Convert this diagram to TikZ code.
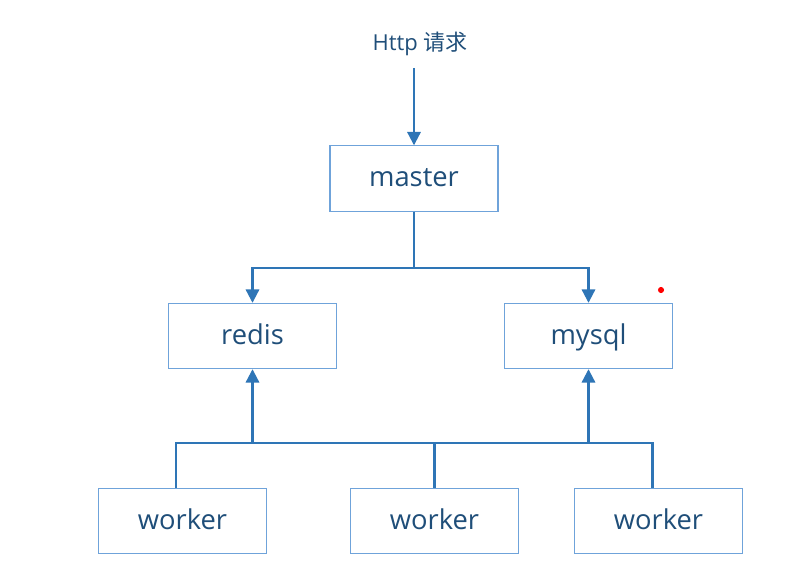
\documentclass[tikz,border=0pt]{standalone}
\usepackage{fontspec}
\setmainfont{Open Sans}
\newfontfamily\cjk{Noto Sans CJK SC}
\usetikzlibrary{arrows.meta, positioning}

\definecolor{boxline}{HTML}{6FA3DA}
\definecolor{boxtext}{HTML}{1F4E79}
\definecolor{linkblue}{HTML}{2E75B6}

\begin{document}
\begin{tikzpicture}[x=0.75pt, y=-0.75pt,
    box/.style={draw=boxline, line width=0.8pt, minimum width=126pt, minimum height=49pt,
      inner sep=0pt, text=boxtext, font=\fontsize{20.5}{24}\selectfont,
      text height=16pt, text depth=3.3pt},
    link/.style={draw=linkblue, line width=1.6pt, -{Triangle[length=10pt, width=10pt]}},
    bus/.style={draw=linkblue, line width=1.6pt}]
  \useasboundingbox (0,0) rectangle (799,577);

  % Request
  \node[text=boxtext, font=\fontsize{16.5}{19}\selectfont] (http) at (420,43.5) {Http {\cjk 请求}};
  \coordinate (in) at (414,68);

  % Nodes
  \node[box] (master) at (414,178.5) {master};
  \node[box] (redis) at (252.5,336) {redis};
  \node[box] (mysql) at (588.5,336) {mysql};
  \node[box] (w1) at (182.5,521) {worker};
  \node[box] (w2) at (434.5,521) {worker};
  \node[box] (w3) at (658.5,521) {worker};

  % master to stores
  \draw[link] (in) -- (master.north);
  \draw[link] (master.south) -- ++(0,56) -| (redis.north);
  \draw[link] (master.south) -- ++(0,56) -| (mysql.north);

  % workers to stores
  \coordinate (busline) at (0,443);
  \coordinate (t1) at ([xshift=-4.9pt]w1.north);
  \coordinate (t3) at ([xshift=-4.5pt]w3.north);
  \draw[bus] (t1) |- (t3 |- busline) -- (t3);
  \draw[bus] (w2.north) -- (w2.north |- busline);
  \draw[link] (redis.south |- busline) -- (redis.south);
  \draw[link] (mysql.south |- busline) -- (mysql.south);

  % stray mark
  \fill[red] (661,290) circle (2.3pt);
\end{tikzpicture}
\end{document}
